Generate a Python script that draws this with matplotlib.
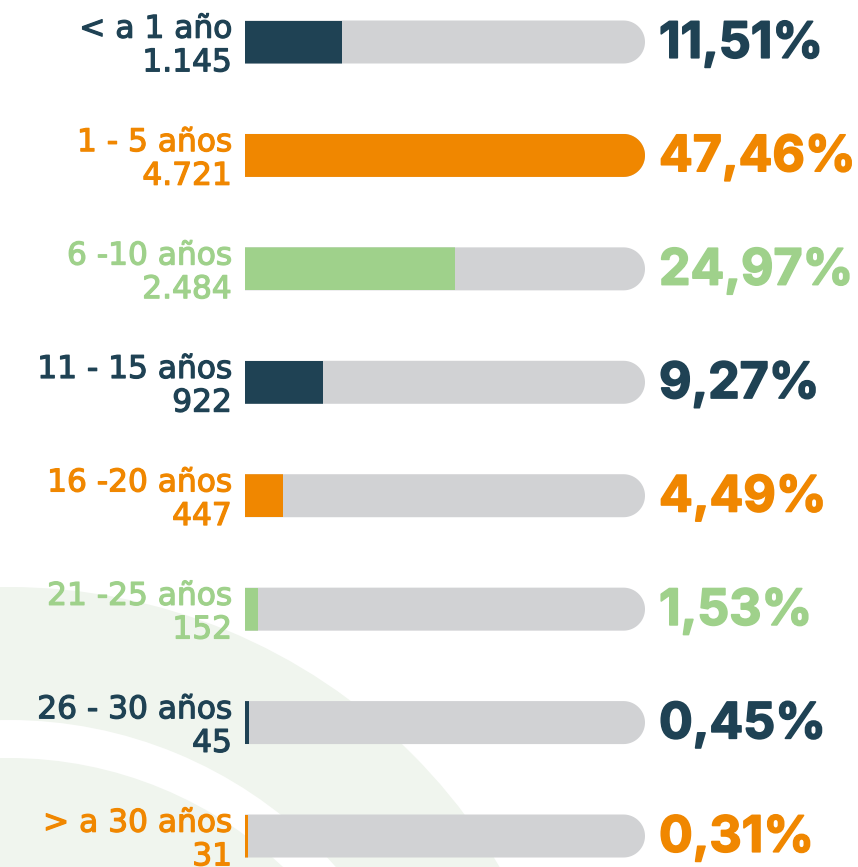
import numpy as np
import matplotlib
matplotlib.use("Agg")
import matplotlib.pyplot as plt
import matplotlib.patheffects as pe
from matplotlib.path import Path
from matplotlib.patches import PathPatch, Wedge, Circle

# data
categories = ["< a 1 año", "1 - 5 años", "6 -10 años", "11 - 15 años",
              "16 -20 años", "21 -25 años", "26 - 30 años", "> a 30 años"]
counts = [1145, 4721, 2484, 922, 447, 152, 45, 31]
percents = [11.51, 47.46, 24.97, 9.27, 4.49, 1.53, 0.45, 0.31]

navy = "#1f4254"
orange = "#f08700"
green = "#9fd18b"
track_grey = "#d1d2d4"
bg_green = "#f0f5ee"
row_colors = [navy, orange, green, navy, orange, green, navy, orange]

W, H = 858, 867
fig = plt.figure(figsize=(W / 100, H / 100), dpi=100)

# background decoration (pixel coords)
bg = fig.add_axes([0, 0, 1, 1])
bg.set_xlim(0, W)
bg.set_ylim(H, 0)
bg.axis("off")
bg.add_patch(Wedge((9, 1157), 570, 0, 360, width=133, color=bg_green, lw=0))
bg.add_patch(Circle((9, 1157), 399, color=bg_green, lw=0))

# bars axes: track from x=245px to 645px
row_step = 113.43
top_px = 42
ax = fig.add_axes([245 / W, 0, 400 / W, 1])
ax.patch.set_alpha(0)
ax.axis("off")
xmax = max(percents)
ax.set_xlim(0, xmax)
ax.set_ylim((H - top_px) / row_step, -top_px / row_step)
h = 43 / row_step

# radius of rounded end in data units
px_per_x = 400 / xmax
px_per_y = row_step
ry = h / 2
rx = ry * px_per_y / px_per_x

def track_path(y):
    cx = xmax - rx
    verts = [(0, y - ry), (cx, y - ry)]
    t = np.linspace(-np.pi / 2, np.pi / 2, 40)
    verts += list(zip(cx + rx * np.cos(t), y + ry * np.sin(t)))
    verts += [(0, y + ry), (0, y - ry)]
    codes = [Path.MOVETO] + [Path.LINETO] * (len(verts) - 2) + [Path.CLOSEPOLY]
    return Path(verts, codes)

for i, (cat, n, p, c) in enumerate(zip(categories, counts, percents, row_colors)):
    track = PathPatch(track_path(i), facecolor=track_grey, edgecolor="none")
    ax.add_patch(track)
    bars = ax.barh(i, p, height=h, color=c, left=0)
    for b in bars:
        b.set_clip_path(track)

    label = cat + "\n" + f"{n:,}".replace(",", ".")
    ax.annotate(label, xy=(0, i), xytext=(-13, -4), textcoords="offset pixels",
                ha="right", va="center", color=c, fontsize=22.5,
                family="DejaVu Sans", linespacing=1.2, annotation_clip=False,
                path_effects=[pe.withStroke(linewidth=0.9, foreground=c)])
    pct = f"{p:.2f}".replace(".", ",") + "%"
    ax.annotate(pct, xy=(xmax, i), xytext=(14, 3), textcoords="offset pixels",
                ha="left", va="center_baseline", color=c, fontsize=36, fontweight="bold",
                family="Inter", annotation_clip=False,
                path_effects=[pe.withStroke(linewidth=1.2, foreground=c)])

fig.savefig("out.png", dpi=100)
